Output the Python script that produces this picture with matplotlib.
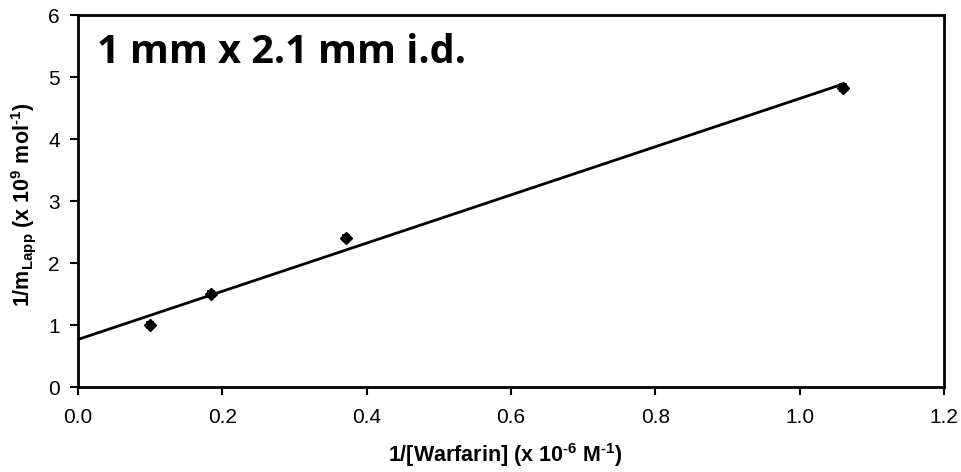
import matplotlib
matplotlib.use("Agg")
import matplotlib.pyplot as plt
import numpy as np

# 1/[Warfarin] (x 10^-6 M^-1) vs 1/m_Lapp (x 10^9 mol^-1)
inv_warfarin = [0.100, 0.184, 0.372, 1.060]
inv_m_lapp = [1.00, 1.50, 2.41, 4.83]
y_err = [0.05, 0.05, 0.05, 0.06]

x_ticks = [0.0, 0.2, 0.4, 0.6, 0.8, 1.0, 1.2]
y_ticks = [0, 1, 2, 3, 4, 5, 6]

plt.rcParams['font.family'] = ['Liberation Sans', 'DejaVu Sans']
plt.rcParams['mathtext.fontset'] = 'custom'
plt.rcParams['mathtext.rm'] = 'Liberation Sans:bold'
plt.rcParams['mathtext.bf'] = 'Liberation Sans:bold'
plt.rcParams['mathtext.it'] = 'Liberation Sans:bold'

fig = plt.figure(figsize=(9.61, 4.72), dpi=100)
ax = fig.add_axes([0.0812, 0.180, 0.9011, 0.788])

slope, intercept = np.polyfit(inv_warfarin, inv_m_lapp, 1)
fit_x = np.array([0.0, max(inv_warfarin)])
ax.plot(fit_x, slope * fit_x + intercept, color='black', lw=2)

ax.errorbar(inv_warfarin, inv_m_lapp, yerr=y_err, fmt='D', color='black',
            ms=6.5, capsize=3, elinewidth=1.2, capthick=1.2)

ax.set_xlim(0, 1.2)
ax.set_ylim(0, 6)
ax.set_xticks(x_ticks)
ax.set_xticklabels([f"{t:.1f}" for t in x_ticks])
ax.set_yticks(y_ticks)
ax.tick_params(direction='out', length=6, width=1.5, labelsize=15)
ax.tick_params(axis='x', pad=9)
ax.tick_params(axis='y', pad=7)
for s in ax.spines.values():
    s.set_linewidth(2)

ax.set_xlabel('1/[Warfarin] (x 10$^{\u2010\\mathbf{6}}$ M$^{\u2010\\mathbf{1}}$)', fontsize=15.5, fontweight='bold')
ax.set_ylabel('1/m$_{\\mathbf{Lapp}}$ (x 10$^{\\mathbf{9}}$ mol$^{\u2010\\mathbf{1}}$)', fontsize=15.5, fontweight='bold')
ax.xaxis.set_label_coords(0.493, -0.145)
ax.yaxis.set_label_coords(-0.046, 0.49)

ax.text(0.022, 0.871, '1 mm x 2.1 mm i.d.', transform=ax.transAxes,
        fontsize=28.5, fontweight='bold', family=['Open Sans', 'DejaVu Sans'],
        va='baseline', ha='left')

fig.savefig('out.png', dpi=100)
